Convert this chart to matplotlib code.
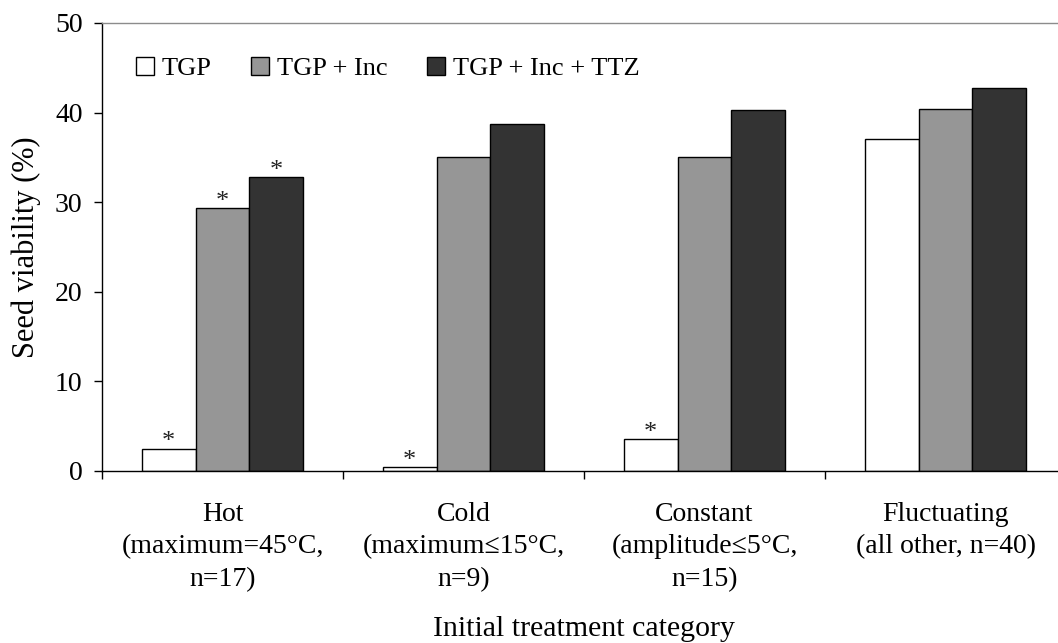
import numpy as np
import matplotlib
matplotlib.use("Agg")
import matplotlib.pyplot as plt
from matplotlib.patches import Patch

plt.rcParams['font.family'] = ['Liberation Serif', 'DejaVu Serif']

# Seed viability (%) per initial treatment category
categories = [
    "Hot\n(maximum=45°C,\nn=17)",
    "Cold\n(maximum≤15°C,\nn=9)",
    "Constant\n(amplitude≤5°C,\nn=15)",
    "Fluctuating\n(all other, n=40)",
]
series_names = ["TGP", "TGP + Inc", "TGP + Inc + TTZ"]
tgp = [2.5, 0.4, 3.6, 37.0]
tgp_inc = [29.3, 35.1, 35.1, 40.4]
tgp_inc_ttz = [32.8, 38.7, 40.3, 42.8]
# significance stars (True = marked with *)
tgp_sig = [True, True, True, False]
tgp_inc_sig = [True, False, False, False]
tgp_inc_ttz_sig = [True, False, False, False]

colors = ["white", "#969696", "#333333"]
fs = 20

fig = plt.figure(figsize=(10.58, 6.43), dpi=100)
ax = fig.add_axes([102 / 1058, 172 / 643, 964 / 1058, 448 / 643])

x = np.arange(len(categories)) + 0.5
w = 0.223
series = [tgp, tgp_inc, tgp_inc_ttz]
sigs = [tgp_sig, tgp_inc_sig, tgp_inc_ttz_sig]
for j, (vals, sig) in enumerate(zip(series, sigs)):
    pos = x + (j - 1) * w
    ax.bar(pos, vals, width=w, color=colors[j], edgecolor="black", linewidth=1.0, zorder=2)
    for xi, v, s in zip(pos, vals, sig):
        if s:
            ax.annotate("*", (xi, v), xytext=(0, -3.5), textcoords="offset points",
                        ha="center", va="bottom", fontsize=19, color="#222222")

ax.set_xlim(0, 4)
ax.set_ylim(0, 50)
ax.set_yticks(np.arange(0, 51, 10))

# boundary ticks between categories, labels at the category centres
ax.set_xticks(np.arange(0, 5))
ax.set_xticklabels([])
ax.set_xticks(x, minor=True)
ax.set_xticklabels(categories, minor=True, fontsize=fs, linespacing=1.4)
ax.tick_params(axis="x", which="minor", length=0, pad=22)
ax.tick_params(axis="x", which="major", direction="out", length=6, width=1)
ax.tick_params(axis="y", direction="out", length=6, width=1, pad=8, labelsize=fs)

for side in ["left", "bottom"]:
    ax.spines[side].set_linewidth(1.0)
ax.spines["top"].set_color("#8c8c8c")
ax.spines["top"].set_linewidth(1.0)
ax.spines["right"].set_visible(False)

ax.set_ylabel("Seed viability (%)", fontsize=22, labelpad=10)
ax.set_xlabel("Initial treatment category", fontsize=21.5)
ax.xaxis.set_label_coords(482 / 964, -145 / 448)

handles = [Patch(facecolor=c, edgecolor="black", linewidth=1.0, label=n)
           for c, n in zip(colors, series_names)]
ax.legend(handles=handles, ncol=3, frameon=False, fontsize=19,
          loc="center left", bbox_to_anchor=(34 / 964, 0.898),
          handlelength=0.68, handleheight=0.68, handletextpad=0.3,
          columnspacing=1.5, borderaxespad=0, borderpad=0)

fig.savefig("out.png", dpi=100)
